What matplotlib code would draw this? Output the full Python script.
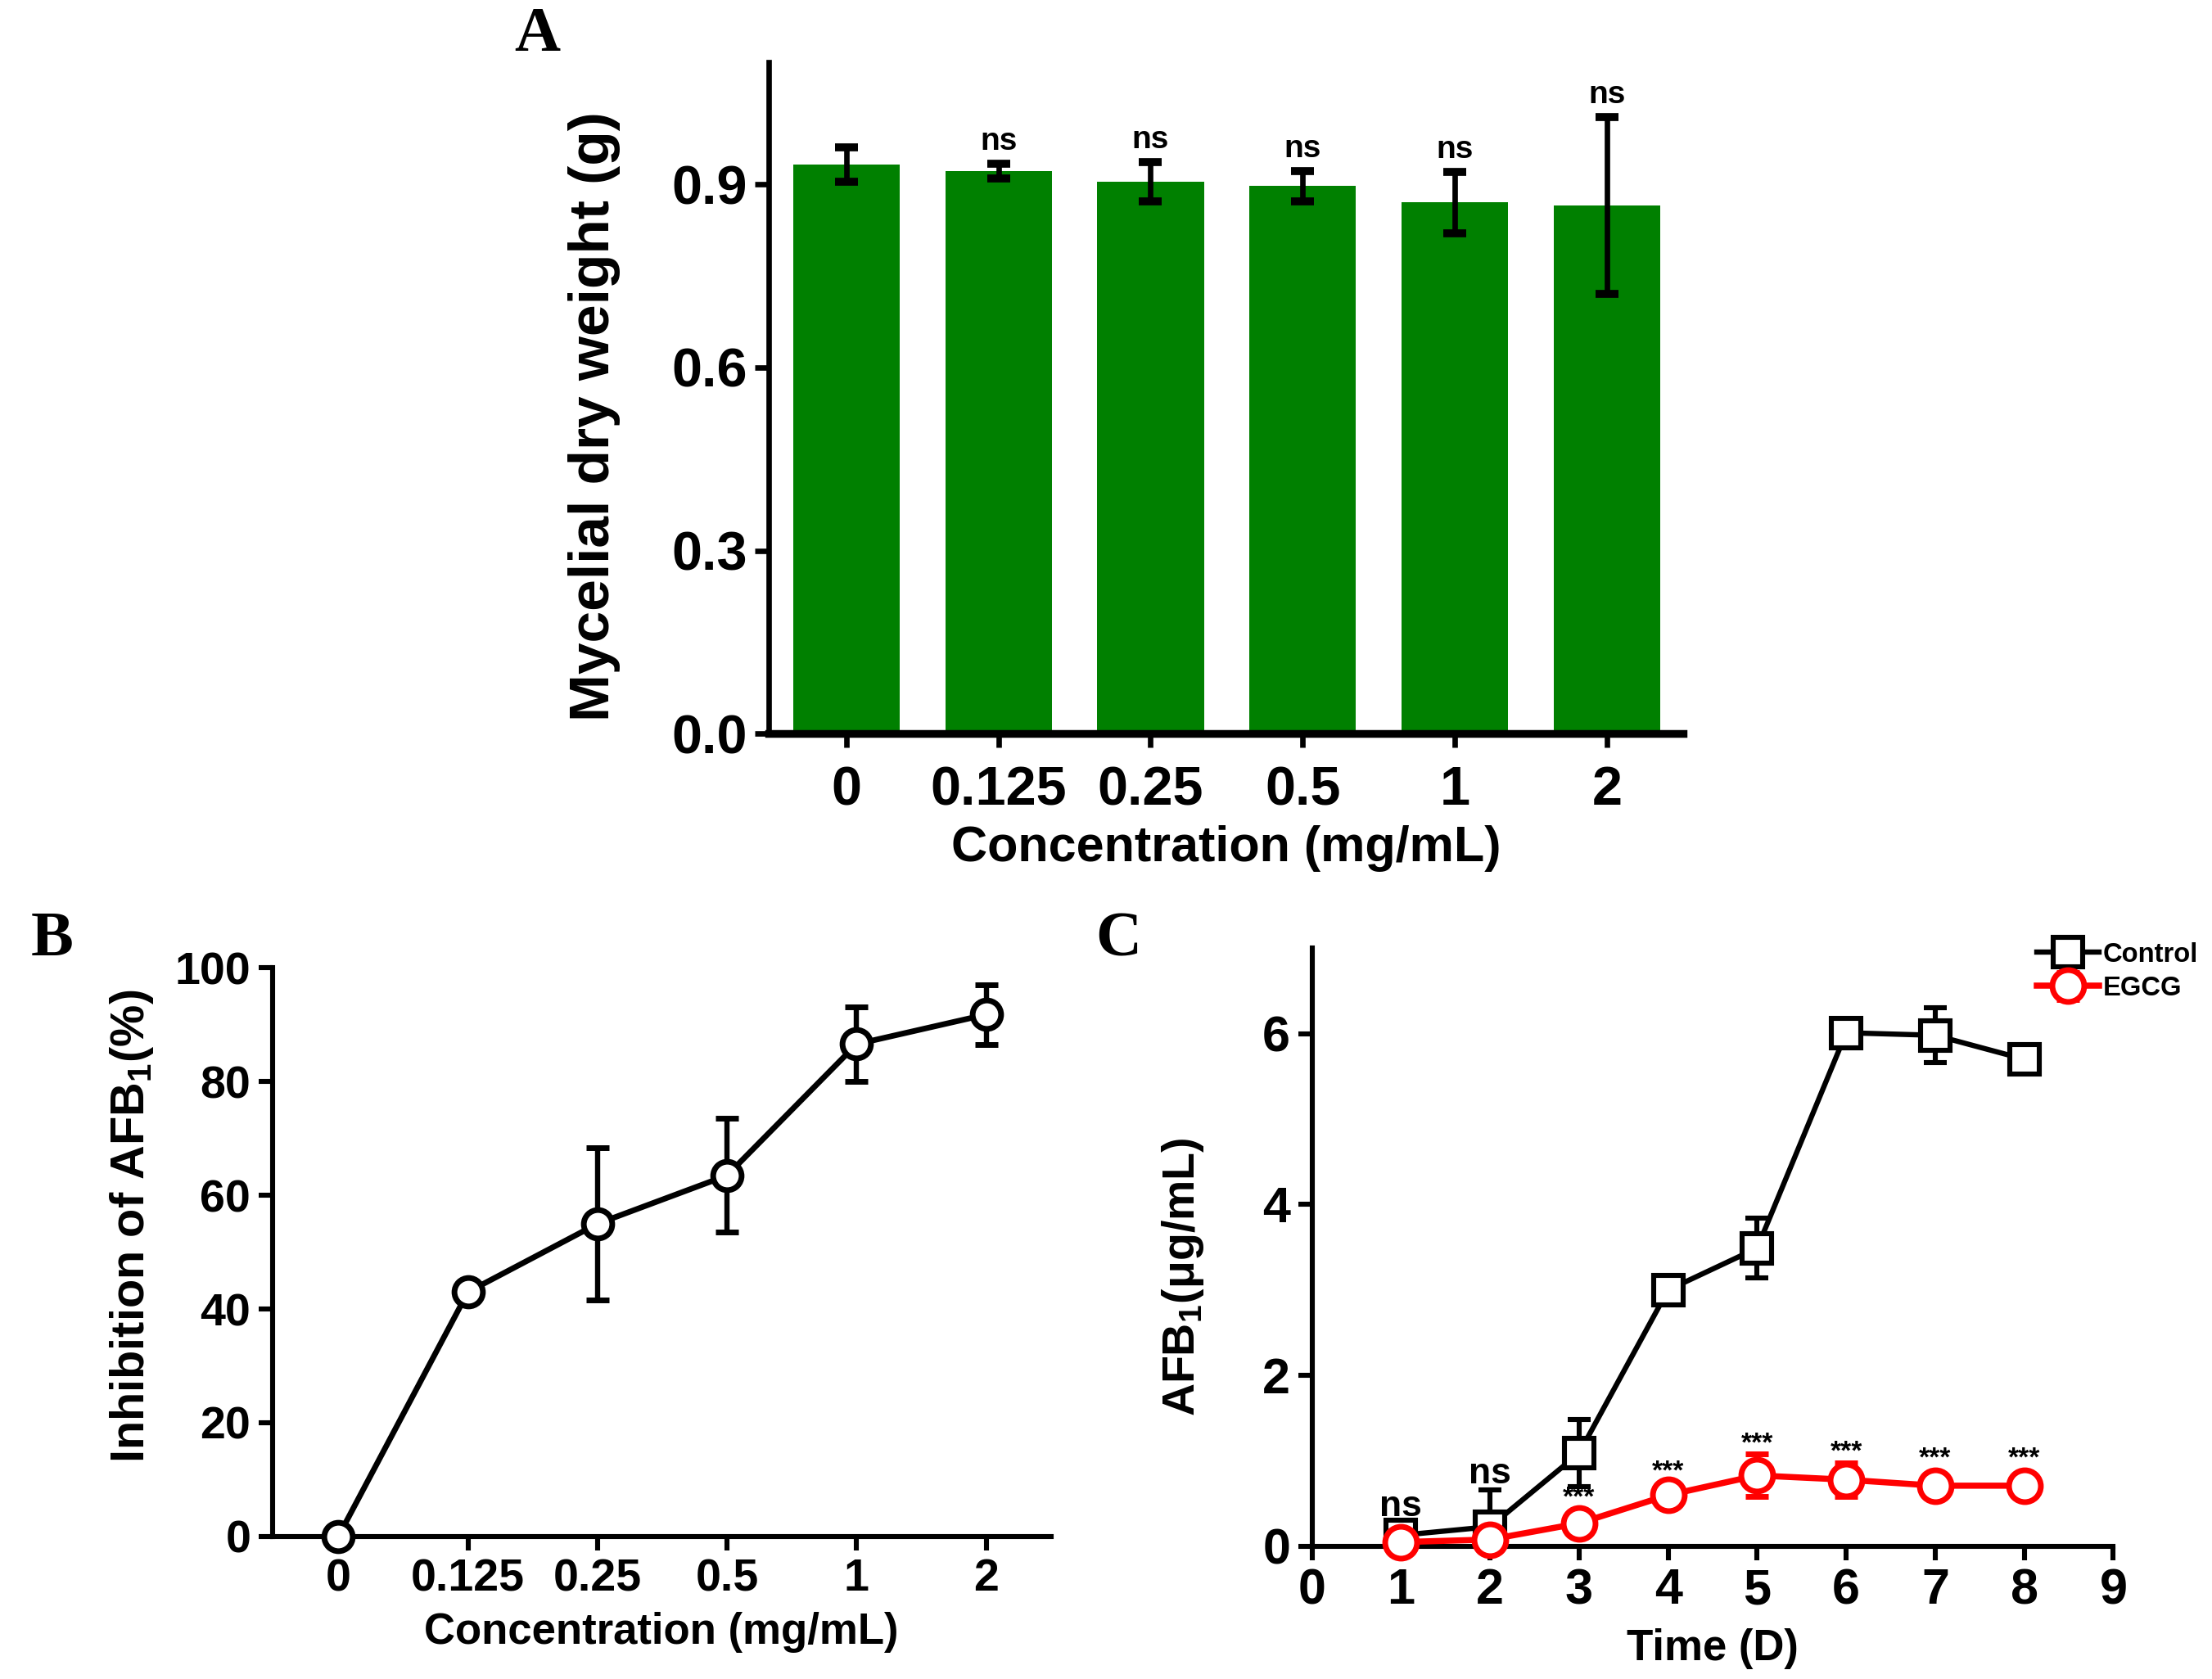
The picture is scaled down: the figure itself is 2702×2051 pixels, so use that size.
import matplotlib
matplotlib.use('Agg')
import matplotlib.pyplot as plt
from matplotlib import font_manager

# condensed font for tick labels if present
names = {f.name for f in font_manager.fontManager.ttflist}
narrow = 'Liberation Sans Narrow' if 'Liberation Sans Narrow' in names else 'Liberation Sans'

plt.rcParams['font.family'] = ['Liberation Sans', 'DejaVu Sans']
plt.rcParams['font.weight'] = 'bold'
plt.rcParams['axes.labelweight'] = 'bold'
plt.rcParams['mathtext.fontset'] = 'custom'
plt.rcParams['mathtext.rm'] = 'Liberation Sans:bold'
plt.rcParams['mathtext.bf'] = 'Liberation Sans:bold'

## data
conc_labels = ['0', '0.125', '0.25', '0.5', '1', '2']
dry_weight = [0.932, 0.921, 0.904, 0.897, 0.870, 0.865]
dry_weight_err = [0.028, 0.012, 0.032, 0.025, 0.050, 0.145]
dry_sig = ['', 'ns', 'ns', 'ns', 'ns', 'ns']

inhibition = [0, 43.0, 55.0, 63.5, 86.6, 91.8]
inhibition_err = [0, 1.5, 13.4, 10.0, 6.5, 5.3]

days = [1, 2, 3, 4, 5, 6, 7, 8]
control = [0.13, 0.23, 1.09, 3.0, 3.49, 6.01, 5.98, 5.70]
control_err = [0.10, 0.43, 0.39, 0.12, 0.35, 0.12, 0.32, 0.05]
egcg = [0.05, 0.08, 0.27, 0.60, 0.83, 0.78, 0.71, 0.71]
egcg_err = [0.04, 0.04, 0.03, 0.05, 0.25, 0.20, 0.05, 0.05]
day_sig = ['ns', 'ns', '***', '***', '***', '***', '***', '***']
sig_y = [0.46, 0.85, 0.56, 0.87, 1.20, 1.10, 1.02, 1.02]

fig = plt.figure(figsize=(13.51, 10.255), dpi=200)

def style_axes(ax, lw):
    for s in ['top', 'right']:
        ax.spines[s].set_visible(False)
    for s in ['left', 'bottom']:
        ax.spines[s].set_linewidth(lw)
    ax.tick_params(width=lw, length=6, direction='out')

## panel A
axA = fig.add_axes([0.3476, 0.563, 0.4132, 0.400])
xa = range(len(conc_labels))
axA.bar(xa, dry_weight, width=0.70, color='#008000', zorder=1)
axA.errorbar(xa, dry_weight, yerr=dry_weight_err, fmt='none', ecolor='black',
             elinewidth=2.4, capsize=5, capthick=3.5, zorder=2)
for i, s in enumerate(dry_sig):
    if s:
        axA.text(i, dry_weight[i] + dry_weight_err[i] + 0.012, s, ha='center', va='bottom',
                 fontsize=14, fontweight='bold')
axA.set_xlim(-0.51, 5.5)
axA.set_ylim(0, 1.1)
axA.set_yticks([0, 0.3, 0.6, 0.9])
axA.set_yticklabels(['0.0', '0.3', '0.6', '0.9'])
axA.set_xticks(list(xa))
axA.set_xticklabels(conc_labels)
style_axes(axA, 2.4)
axA.spines['bottom'].set_linewidth(3.4)
for lab in axA.get_xticklabels() + axA.get_yticklabels():
    lab.set_fontfamily(narrow)
    lab.set_fontsize(24)
axA.tick_params(axis='x', pad=8)
axA.set_ylabel('Mycelial dry weight (g)', fontsize=25)
axA.yaxis.set_label_coords(-0.162, 0.472)
axA.set_xlabel('Concentration (mg/mL)', fontsize=22, fontfamily=narrow, labelpad=4)

## panel B
axB = fig.add_axes([0.1231, 0.0849, 0.3520, 0.3386])
xb = range(len(conc_labels))
axB.errorbar(xb, inhibition, yerr=inhibition_err, color='black', lw=2.5,
             marker='o', markersize=12.5, markerfacecolor='white', markeredgecolor='black',
             markeredgewidth=2.5, ecolor='black', elinewidth=2.3, capsize=5, capthick=2.3,
             clip_on=False, zorder=3)
axB.set_xlim(-0.51, 5.5)
axB.set_ylim(0, 100)
axB.set_yticks([0, 20, 40, 60, 80, 100])
axB.set_xticks(list(xb))
axB.set_xticklabels(conc_labels)
style_axes(axB, 2.2)
for lab in axB.get_xticklabels() + axB.get_yticklabels():
    lab.set_fontfamily(narrow)
    lab.set_fontsize(20)
axB.set_ylabel(r'Inhibition of AFB$_{1}$(%)', fontsize=20.8)
axB.yaxis.set_label_coords(-0.150, 0.546)
axB.set_xlabel('Concentration (mg/mL)', fontsize=19, labelpad=5)

## panel C
axC = fig.add_axes([0.5931, 0.079, 0.3623, 0.3563])
axC.errorbar(days, control, yerr=control_err, color='black', lw=2.3,
             marker='s', markersize=13, markerfacecolor='white', markeredgecolor='black',
             markeredgewidth=2.2, ecolor='black', elinewidth=2.2, capsize=5, capthick=2.2,
             label='Control', zorder=3)
axC.errorbar(days, egcg, yerr=egcg_err, color='red', lw=2.7,
             marker='o', markersize=14, markerfacecolor='white', markeredgecolor='red',
             markeredgewidth=2.5, ecolor='red', elinewidth=2.4, capsize=5, capthick=2.4,
             label='EGCG', zorder=4, clip_on=False)
for d, s, y in zip(days, day_sig, sig_y):
    if s == 'ns':
        axC.text(d, y, s, ha='center', va='center', fontsize=16, fontfamily=narrow)
    else:
        axC.text(d, y, s, ha='center', va='center', fontsize=12, fontfamily='Liberation Sans')
axC.set_xlim(0, 9)
axC.set_ylim(0, 7)
axC.set_xticks(range(10))
axC.set_yticks([0, 2, 4, 6])
style_axes(axC, 2.2)
for lab in axC.get_xticklabels() + axC.get_yticklabels():
    lab.set_fontfamily(narrow)
    lab.set_fontsize(22)
axC.set_ylabel(r'AFB$_{1}$(μg/mL)', fontsize=20)
axC.yaxis.set_label_coords(-0.132, 0.45)
axC.set_xlabel('Time (D)', fontsize=19, fontfamily=narrow, labelpad=6)
leg = axC.legend(loc='upper left', bbox_to_anchor=(0.905, 1.01), frameon=False,
                 fontsize=11.8, handlelength=2.3, handletextpad=0.15, labelspacing=0.3,
                 markerscale=1.0, borderaxespad=0, borderpad=0)

## panel letters
fig.text(0.243, 0.979, 'A', fontsize=28, fontfamily='Liberation Serif', fontweight='bold', ha='center', va='center')
fig.text(0.0236, 0.440, 'B', fontsize=28, fontfamily='Liberation Serif', fontweight='bold', ha='center', va='center')
fig.text(0.5057, 0.440, 'C', fontsize=28, fontfamily='Liberation Serif', fontweight='bold', ha='center', va='center')

fig.savefig('out.png', dpi=200)
